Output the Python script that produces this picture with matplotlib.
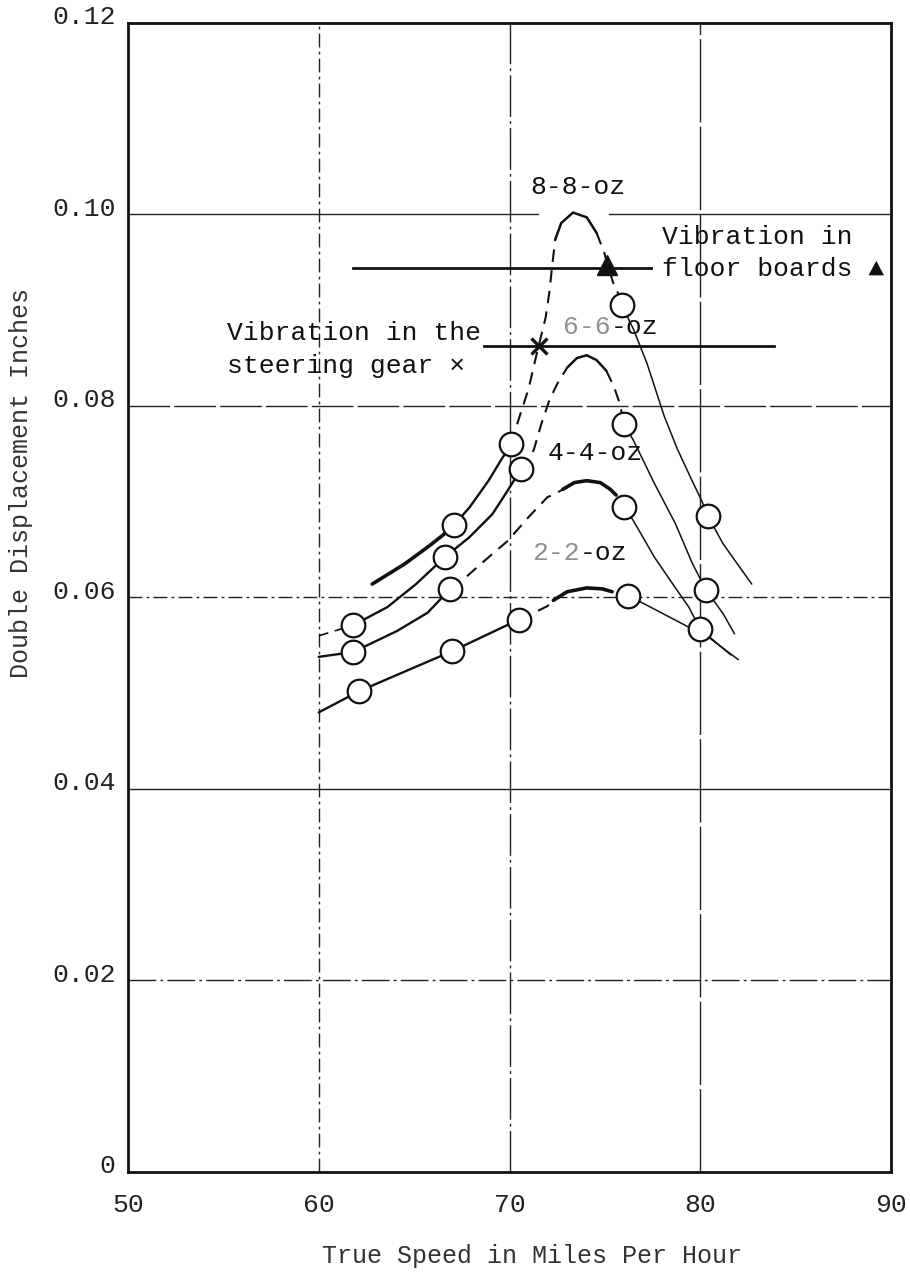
import matplotlib
matplotlib.use('Agg')
import matplotlib.pyplot as plt
from matplotlib.transforms import ScaledTranslation

# ---------------- data ----------------
x_ticks = [50, 60, 70, 80, 90]
x_tick_labels = ['50', '60', '70', '80', '90']
y_ticks = [0, 0.02, 0.04, 0.06, 0.08, 0.10, 0.12]
y_tick_labels = ['0', '0.02', '0.04', '0.06', '0.08', '0.10', '0.12']

# 8-8-oz
s8_mark_x = [67.1, 70.1, 75.9, 80.4]
s8_mark_y = [0.0676, 0.0760, 0.0905, 0.0685]
s8_left_x = [62.8, 64.5, 65.8, 66.5, 67.1, 67.9, 68.9, 69.6, 70.1]
s8_left_y = [0.0614, 0.0635, 0.0654, 0.0665, 0.0676, 0.0694, 0.0722, 0.0745, 0.0760]
s8_dash_x = [70.1, 70.35, 71.0, 71.42, 71.89, 72.09, 72.24, 72.40]
s8_dash_y = [0.0760, 0.0778, 0.0818, 0.0854, 0.0892, 0.0919, 0.0947, 0.0974]
s8_arc_x = [72.40, 72.71, 73.33, 74.05, 74.56]
s8_arc_y = [0.0974, 0.0991, 0.1002, 0.0997, 0.0981]
s8_dash2_x = [74.56, 74.97, 75.17, 75.48, 75.79, 75.9]
s8_dash2_y = [0.0981, 0.0960, 0.0945, 0.0926, 0.0914, 0.0905]
s8_right_x = [75.9, 76.5, 77.2, 78.1, 78.8, 79.5, 80.1, 80.4, 81.2, 82.7]
s8_right_y = [0.0905, 0.0880, 0.0845, 0.0790, 0.0755, 0.0725, 0.0700, 0.0685, 0.0656, 0.0614]

# 6-6-oz
s6_mark_x = [61.8, 66.6, 70.6, 76.0, 80.3]
s6_mark_y = [0.0571, 0.0642, 0.0734, 0.0781, 0.0608]
s6_lead_x = [60.0, 61.8]
s6_lead_y = [0.0560, 0.0571]
s6_left_x = [61.8, 63.6, 65.1, 66.6, 67.9, 69.1, 69.85, 70.6]
s6_left_y = [0.0571, 0.0590, 0.0614, 0.0642, 0.0663, 0.0687, 0.0710, 0.0734]
s6_dash_x = [70.6, 71.27, 71.68, 72.09, 72.5, 73.02]
s6_dash_y = [0.0734, 0.0754, 0.0782, 0.0806, 0.0823, 0.0840]
s6_arc_x = [73.02, 73.53, 74.05, 74.56, 75.07]
s6_arc_y = [0.0840, 0.0850, 0.0853, 0.0848, 0.0837]
s6_dash2_x = [75.07, 75.48, 75.79, 76.0]
s6_dash2_y = [0.0837, 0.0820, 0.0802, 0.0781]
s6_right_x = [76.0, 76.5, 77.6, 78.7, 79.6, 80.3, 81.2, 81.8]
s6_right_y = [0.0781, 0.0764, 0.0719, 0.0677, 0.0635, 0.0608, 0.0583, 0.0562]

# 4-4-oz
s4_mark_x = [61.8, 66.9, 76.0, 80.0]
s4_mark_y = [0.0543, 0.0609, 0.0695, 0.0567]
s4_left_x = [60.0, 61.8, 64.1, 65.7, 66.9]
s4_left_y = [0.0538, 0.0543, 0.0565, 0.0584, 0.0609]
s4_dash_x = [66.9, 67.7, 68.9, 69.9, 71.0, 72.0, 72.3, 72.8]
s4_dash_y = [0.0609, 0.0621, 0.0642, 0.0659, 0.0684, 0.0705, 0.0707, 0.0713]
s4_arc_x = [72.8, 73.4, 74.05, 74.76, 75.28, 75.59]
s4_arc_y = [0.0713, 0.0720, 0.0722, 0.0720, 0.0713, 0.0707]
s4_right_x = [76.0, 76.5, 77.6, 78.7, 79.4, 80.0, 80.6, 82.0]
s4_right_y = [0.0695, 0.0680, 0.0642, 0.0610, 0.0590, 0.0567, 0.0556, 0.0535]

# 2-2-oz
s2_mark_x = [62.1, 67.0, 70.5, 76.2]
s2_mark_y = [0.0502, 0.0544, 0.0577, 0.0602]
s2_left_x = [60.0, 62.1, 67.0, 70.5]
s2_left_y = [0.0480, 0.0502, 0.0544, 0.0577]
s2_dash_x = [70.5, 71.38, 71.99, 72.3]
s2_dash_y = [0.0577, 0.0585, 0.0591, 0.0597]
s2_arc_x = [72.3, 73.02, 74.05, 74.87, 75.38]
s2_arc_y = [0.0597, 0.0606, 0.0610, 0.0609, 0.0606]
s2_right_x = [76.2, 77.1, 79.4, 80.0, 81.6]
s2_right_y = [0.0602, 0.0593, 0.0569, 0.0567, 0.0540]

# vibration thresholds
floor_x = [61.8, 77.4]
floor_y = 0.0944
floor_mark = (75.1, 0.0947)
steer_x = [68.65, 83.85]
steer_y = 0.0863
steer_mark = (71.54, 0.0863)

# break in the 0.10 ruled line around the 8-8-oz peak
grid_gap_010 = (71.5, 75.2)

# ---------------- drawing ----------------
plt.rcParams['font.family'] = ['Liberation Mono', 'DejaVu Sans Mono', 'DejaVu Sans']
INK = '#111111'
GRID = '#222222'

fig = plt.figure(figsize=(9.1, 12.76), dpi=100)
ax = fig.add_axes([0.1407, 0.0815, 0.8384, 0.9005])
ax.set_xlim(50, 90)
ax.set_ylim(0, 0.12)
ax.set_xticks(x_ticks)
ax.set_xticklabels(x_tick_labels)
ax.set_yticks(y_ticks)
ax.set_yticklabels(y_tick_labels)
ax.tick_params(length=0, labelsize=19, colors='#222222')
ax.tick_params(axis='x', pad=15)
ax.tick_params(axis='y', pad=9)
up = ScaledTranslation(0, 6 / 72, fig.dpi_scale_trans)
for lab in ax.get_yticklabels():
    lab.set_transform(lab.get_transform() + up)
for sp in ax.spines.values():
    sp.set_linewidth(2.0)
    sp.set_color(INK)

# hand-ruled grid lines (slightly broken, as in the scan)
vgrid_styles = {60: (0, (10, 3, 2, 3)), 70: (0, (30, 3, 2, 3)), 80: (0, (60, 3))}
for xv in x_ticks[1:-1]:
    ax.axvline(xv, color=GRID, lw=1.0, linestyle=vgrid_styles[xv], zorder=0)
hgrid_styles = {0.02: (0, (20, 3, 2, 3)), 0.04: '-', 0.06: (0, (10, 3, 2, 3)),
                0.08: (0, (30, 3)), 0.10: '-'}
for yv in y_ticks[1:-1]:
    if yv == 0.10:
        ax.plot([x_ticks[0], grid_gap_010[0]], [yv, yv], color=GRID, lw=1.0, zorder=0)
        ax.plot([grid_gap_010[1], x_ticks[-1]], [yv, yv], color=GRID, lw=1.0, zorder=0)
    else:
        ax.axhline(yv, color=GRID, lw=1.0, linestyle=hgrid_styles[yv], zorder=0)

DASH = (0, (6, 4))
THICK = 1.7
THIN = 1.1

def solid(x, y, lw=THICK):
    ax.plot(x, y, color=INK, lw=lw, solid_capstyle='round', zorder=2)

def dashed(x, y, lw=1.5):
    ax.plot(x, y, color=INK, lw=lw, linestyle=DASH, zorder=2)

def marks(x, y):
    ax.plot(x, y, linestyle='none', marker='o', ms=17, mfc='white',
            mec=INK, mew=1.6, zorder=5)

# 8-8-oz
solid(s8_left_x[:5], s8_left_y[:5], lw=2.6)
solid(s8_left_x[4:], s8_left_y[4:])
dashed(s8_dash_x, s8_dash_y)
solid(s8_arc_x, s8_arc_y, lw=1.8)
dashed(s8_dash2_x, s8_dash2_y)
solid(s8_right_x, s8_right_y, lw=THIN)
marks(s8_mark_x, s8_mark_y)

# 6-6-oz
dashed(s6_lead_x, s6_lead_y, lw=1.2)
solid(s6_left_x, s6_left_y)
dashed(s6_dash_x, s6_dash_y)
solid(s6_arc_x, s6_arc_y, lw=1.8)
dashed(s6_dash2_x, s6_dash2_y)
solid(s6_right_x, s6_right_y, lw=THIN)
marks(s6_mark_x, s6_mark_y)

# 4-4-oz
solid(s4_left_x, s4_left_y)
dashed(s4_dash_x, s4_dash_y)
solid(s4_arc_x, s4_arc_y, lw=2.6)
solid(s4_right_x, s4_right_y, lw=THIN)
marks(s4_mark_x, s4_mark_y)

# 2-2-oz
solid(s2_left_x, s2_left_y)
dashed(s2_dash_x, s2_dash_y)
solid(s2_arc_x, s2_arc_y, lw=2.6)
solid(s2_right_x, s2_right_y, lw=THIN)
marks(s2_mark_x, s2_mark_y)

# threshold lines
ax.plot(floor_x, [floor_y, floor_y], color=INK, lw=2.0, zorder=3)
ax.plot([floor_mark[0]], [floor_mark[1]], marker='^', ms=14, color=INK,
        linestyle='none', zorder=6)
ax.plot(steer_x, [steer_y, steer_y], color=INK, lw=2.0, zorder=3)
ax.plot([steer_mark[0]], [steer_mark[1]], marker='x', ms=12, mew=2.4,
        color=INK, linestyle='none', zorder=6)

# labels
FS = 19
FAINT = '#8f8f8f'
ax.text(73.6, 0.1029, '8-8-oz', fontsize=FS, color=INK, ha='center', va='center')
ax.text(75.3, 0.0883, '6-6', fontsize=FS, color=FAINT, ha='right', va='center', zorder=4)
ax.text(75.3, 0.0883, '-oz', fontsize=FS, color=INK, ha='left', va='center', zorder=4)
ax.text(74.5, 0.0751, '4-4-oz', fontsize=FS, color=INK, ha='center', va='center')
ax.text(73.7, 0.0646, '2-2', fontsize=FS, color=FAINT, ha='right', va='center')
ax.text(73.7, 0.0646, '-oz', fontsize=FS, color=INK, ha='left', va='center')

ax.text(78.0, 0.0976, 'Vibration in', fontsize=FS, color=INK, ha='left', va='center')
ax.text(78.0, 0.0943, 'floor boards ▲', fontsize=FS, color=INK, ha='left', va='center')
ax.text(55.2, 0.0876, 'Vibration in the', fontsize=FS, color=INK, ha='left', va='center')
ax.text(55.2, 0.0842, 'steering gear ×', fontsize=FS, color=INK, ha='left', va='center')

ax.set_xlabel('True Speed in Miles Per Hour', fontsize=18, color='#333333')
ax.xaxis.set_label_coords(0.529, -0.063)
ax.set_ylabel('Double Displacement Inches', fontsize=18, color='#333333')
ax.yaxis.set_label_coords(-0.125, 0.60)

fig.savefig('out.png', dpi=100, facecolor='white')
